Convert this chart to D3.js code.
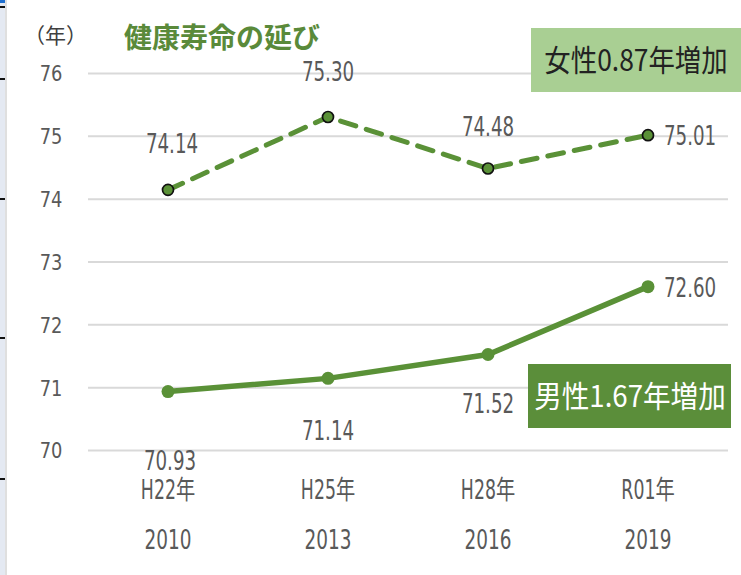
<!DOCTYPE html>
<html>
<head>
<meta charset="utf-8">
<script src="https://cdn.jsdelivr.net/npm/d3@7"></script>
<style>
  body { margin: 0; background: #fff; }
  svg { display: block; }
  .tick text, .lbl { font-family: "DejaVu Sans Condensed", "Noto Sans CJK JP", sans-serif; fill: #595959; }
  .cjk { font-family: "Noto Sans CJK JP", sans-serif; }
</style>
</head>
<body>
<div id="chart"></div>
<script>
var eras = ["H22年", "H25年", "H28年", "R01年"];
var years = ["2010", "2013", "2016", "2019"];
var female = [74.14, 75.30, 74.48, 75.01];
var male = [70.93, 71.14, 71.52, 72.60];
var yTicks = [70, 71, 72, 73, 74, 75, 76];

var W = 741, H = 575;
var plotL = 88, plotR = 728, plotT = 73, plotB = 450;
var green = "#5a9137";

var svg = d3.select("#chart").append("svg")
  .attr("width", W).attr("height", H);

// narrow the glyphs to look like the condensed office font
function squeeze(sel, k) {
  sel.each(function() {
    var len = this.getComputedTextLength();
    d3.select(this).attr("textLength", len * k).attr("lengthAdjust", "spacingAndGlyphs");
  });
}

// window edge remains
svg.append("rect").attr("x", 0).attr("y", 0).attr("width", 5).attr("height", H).attr("fill", "#e4e9f2");
svg.append("rect").attr("x", 0).attr("y", 0).attr("width", 5).attr("height", 3).attr("fill", "#1f6fd0");
svg.append("line").attr("x1", 6).attr("x2", 6).attr("y1", 0).attr("y2", H)
  .attr("stroke", "#d4d4d4").attr("stroke-width", 1.5);
[6, 78, 198, 337, 478].forEach(function(y) {
  svg.append("rect").attr("x", 0).attr("y", y).attr("width", 5).attr("height", 2).attr("fill", "#111");
});

var x = d3.scaleBand().domain(years).range([plotL, plotR]);
var y = d3.scaleLinear().domain([70, 76]).range([plotB, plotT]);
var cx = function(i) { return x(years[i]) + x.bandwidth() / 2; };

// gridlines + y labels
var yAxis = d3.axisLeft(y).tickValues(yTicks).tickSize(0).tickFormat(d3.format("d"));
var gy = svg.append("g").attr("transform", "translate(" + plotL + ",0)").call(yAxis);
gy.select(".domain").remove();
gy.selectAll(".tick line").attr("stroke", "#d9d9d9").attr("stroke-width", 2)
  .attr("x1", 0).attr("x2", plotR - plotL);
gy.selectAll(".tick text").attr("font-size", 22).attr("x", -37).attr("dy", "0.36em")
  .attr("text-anchor", "middle").call(squeeze, 0.9);

// x labels (two rows)
var xAxis = d3.axisBottom(x).tickSize(0).tickFormat(function(d, i) { return eras[i]; });
var gx = svg.append("g").attr("transform", "translate(0," + plotB + ")").call(xAxis);
gx.select(".domain").remove();
gx.selectAll(".tick text").attr("font-size", 26).attr("y", 31).call(squeeze, 0.74);
gx.selectAll(".tick").append("text")
  .attr("y", 80).attr("dy", "0.71em").attr("font-size", 27).attr("fill", "#595959")
  .text(function(d) { return d; })
  .call(squeeze, 0.76);

var line = d3.line().x(function(d, i) { return cx(i); }).y(function(d) { return y(d); });

// female dashed
svg.append("path").datum(female).attr("d", line)
  .attr("fill", "none").attr("stroke", green).attr("stroke-width", 5)
  .attr("stroke-dasharray", "16,11").attr("stroke-linecap", "round");
svg.selectAll(".fdot").data(female).enter().append("circle")
  .attr("class", "fdot")
  .attr("cx", function(d, i) { return cx(i); }).attr("cy", function(d) { return y(d); })
  .attr("r", 5.5).attr("fill", green).attr("stroke", "#111").attr("stroke-width", 1.7);

// male solid
svg.append("path").datum(male).attr("d", line)
  .attr("fill", "none").attr("stroke", green).attr("stroke-width", 5.5);
svg.selectAll(".mdot").data(male).enter().append("circle")
  .attr("class", "mdot")
  .attr("cx", function(d, i) { return cx(i); }).attr("cy", function(d) { return y(d); })
  .attr("r", 6.5).attr("fill", green);

// value labels: [dx, dy, anchor]
var fOff = [[4, -46, "middle"], [0, -45, "middle"], [0, -42, "middle"], [16, 1, "start"]];
var mOff = [[2, 69, "middle"], [0, 53, "middle"], [0, 50, "middle"], [16, 1, "start"]];
function labels(data, off, cls) {
  svg.selectAll("." + cls).data(data).enter().append("text")
    .attr("class", "lbl " + cls)
    .attr("font-size", 26)
    .attr("x", function(d, i) { return cx(i) + off[i][0]; })
    .attr("y", function(d) { return y(d); })
    .attr("dy", function(d, i) { return off[i][1] + 9; })
    .attr("text-anchor", function(d, i) { return off[i][2]; })
    .text(function(d) { return d3.format(".2f")(d); })
    .call(squeeze, 0.78);
}
labels(female, fOff, "flbl");
labels(male, mOff, "mlbl");

// title & unit
svg.append("text").attr("class", "cjk").attr("x", 24).attr("y", 43)
  .attr("font-size", 21).attr("fill", "#404040").text("（年）");
svg.append("text").attr("class", "cjk").attr("x", 124).attr("y", 48)
  .attr("font-size", 28).attr("font-weight", "bold").attr("fill", "#5a8a3a").text("健康寿命の延び");

// callout boxes
svg.append("rect").attr("x", 531).attr("y", 28).attr("width", W - 531).attr("height", 64).attr("fill", "#a9cf93");
svg.append("text").attr("class", "cjk").attr("x", 636).attr("y", 60).attr("dy", "0.36em")
  .attr("text-anchor", "middle").attr("font-size", 30).attr("fill", "#222").text("女性0.87年増加")
  .call(squeeze, 0.88);
svg.append("rect").attr("x", 528).attr("y", 364).attr("width", 203).attr("height", 64).attr("fill", "#5b8e3a");
svg.append("text").attr("class", "cjk").attr("x", 630).attr("y", 396).attr("dy", "0.36em")
  .attr("text-anchor", "middle").attr("font-size", 30).attr("fill", "#fff").text("男性1.67年増加")
  .call(squeeze, 0.92);
</script>
</body>
</html>
